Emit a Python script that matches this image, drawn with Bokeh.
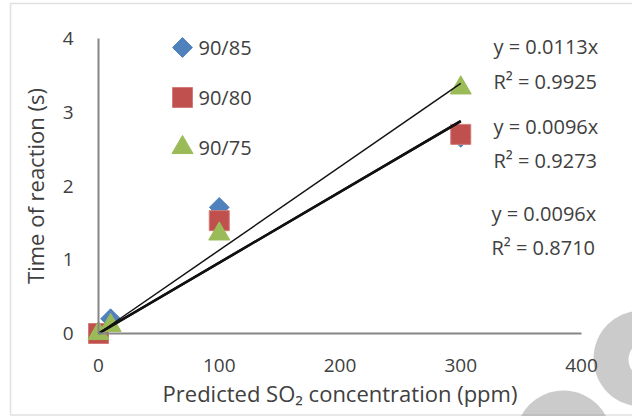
import math
from bokeh.plotting import figure
from bokeh.models import Range1d, LinearAxis, FixedTicker, BoxAnnotation, Label
from bokeh.embed import file_html
from bokeh.resources import INLINE

# ---------------- data ----------------
series_names = ["90/85", "90/80", "90/75"]
x_9085 = [0, 10, 100, 300]
y_9085 = [0.0, 0.20, 1.71, 2.66]
x_9080 = [0, 100, 300]
y_9080 = [0.0, 1.53, 2.70]
x_9075 = [0, 10, 100, 300]
y_9075 = [0.0, 0.11, 1.35, 3.33]

trend_x = [0, 300]
trend_slopes = [0.0096, 0.0096, 0.0113]          # 90/85, 90/80, 90/75
trend_eq = ["y = 0.0096x", "y = 0.0096x", "y = 0.0113x"]
trend_r2 = ["R² = 0.8710", "R² = 0.9273", "R² = 0.9925"]

x_ticks = [0, 100, 200, 300, 400]
y_ticks = [0, 1, 2, 3, 4]
x_title = "Predicted SO₂ concentration (ppm)"
y_title = "Time of reaction (s)"

# ---------------- layout ----------------
W, H = 632, 416
PX_X0, PX_PER_X = 98.0, 1.2075     # pixel of x=0, pixels per unit
PX_Y0, PX_PER_Y = 333.0, 73.75     # pixel of y=0, pixels per unit


def dx(px):
    return (px - PX_X0) / PX_PER_X


def dy(py):
    return (PX_Y0 - py) / PX_PER_Y


FONT = "Open Sans"
TXT = "#404040"
AXIS_COL = "#868686"
BLUE, RED, GREEN = "#4F81BD", "#C0504D", "#9BBB59"
LBL_SIZE = "20px"

p = figure(width=W, height=H, x_range=Range1d(dx(0), dx(W)), y_range=Range1d(dy(H), dy(0)),
           output_backend="svg", toolbar_location=None, min_border=0,
           x_axis_type=None, y_axis_type=None)
p.outline_line_color = None
p.background_fill_color = "white"
p.border_fill_color = "white"

# decorative grey blobs (bottom right)
p.circle(x=[dx(641)], y=[dy(358)], radius=48, radius_units="screen",
         fill_color="#cbcbcb", line_color=None)
p.circle(x=[dx(646)], y=[dy(359)], radius=18, radius_units="screen",
         fill_color="white", line_color=None)
p.circle(x=[dx(563)], y=[dy(438)], radius=48, radius_units="screen",
         fill_color="#cbcbcb", line_color=None)

# outer chart border
p.add_layout(BoxAnnotation(left=dx(10), right=dx(W + 60), top=dy(3), bottom=dy(414.5),
                           fill_alpha=0, line_color="#9a9a9a", line_width=1.5))

# axes
xaxis = LinearAxis(ticker=FixedTicker(ticks=x_ticks), fixed_location=0, bounds=(0, 400))
yaxis = LinearAxis(ticker=FixedTicker(ticks=y_ticks), fixed_location=0, bounds=(0, 4))
for ax in (xaxis, yaxis):
    ax.axis_line_color = AXIS_COL
    ax.axis_line_width = 2
    ax.major_tick_line_color = None
    ax.minor_tick_line_color = None
    ax.major_tick_in = 0
    ax.major_tick_out = 0
    ax.major_label_text_font = FONT
    ax.major_label_text_font_size = "19px"
    ax.major_label_text_color = TXT
    ax.axis_label_text_font = FONT
    ax.axis_label_text_font_size = "22px"
    ax.axis_label_text_font_style = "normal"
    ax.axis_label_text_color = TXT
xaxis.axis_label = x_title
yaxis.axis_label = y_title
xaxis.major_label_standoff = 25
xaxis.axis_label_standoff = 3
yaxis.major_label_standoff = 25
yaxis.axis_label_standoff = 10
p.add_layout(xaxis, "below")
p.add_layout(yaxis, "left")

# data markers
p.scatter(x_9085, y_9085, marker="square", angle=math.pi / 4, size=14,
          fill_color=BLUE, line_color=BLUE)
p.scatter(x_9080, y_9080, marker="square", size=20, fill_color=RED, line_color="#d27c7a")
p.scatter(x_9075, y_9075, marker="triangle", size=21, fill_color=GREEN, line_color=GREEN)

# trend lines (through origin)
for s, w in zip(trend_slopes, [2.5, 2.5, 1.5]):
    p.line(trend_x, [s * xv for xv in trend_x], line_color="#111111", line_width=w)

# legend (manual, to keep Excel marker shapes)
leg_px_x, leg_px_y, leg_txt_x = 182, [47, 97, 147], 198
p.scatter([dx(leg_px_x)], [dy(leg_px_y[0])], marker="square", angle=math.pi / 4, size=14,
          fill_color=BLUE, line_color=BLUE)
p.scatter([dx(leg_px_x)], [dy(leg_px_y[1])], marker="square", size=20,
          fill_color=RED, line_color="#d27c7a")
p.scatter([dx(leg_px_x)], [dy(leg_px_y[2])], marker="triangle", size=21,
          fill_color=GREEN, line_color=GREEN)
for name, py in zip(series_names, leg_px_y):
    p.add_layout(Label(x=dx(leg_txt_x), y=dy(py), text=name, text_baseline="middle",
                       text_align="left", text_font=FONT, text_font_size=LBL_SIZE,
                       text_color=TXT))

# equation labels (top to bottom: 90/75, 90/80, 90/85)
eq_px = [(493, 46, 81), (493, 126, 160), (491, 213, 247)]
for i, (px, py1, py2) in zip([2, 1, 0], eq_px):
    p.add_layout(Label(x=dx(px), y=dy(py1), text=trend_eq[i], text_baseline="middle",
                       text_align="left", text_font=FONT, text_font_size=LBL_SIZE,
                       text_color=TXT))
    p.add_layout(Label(x=dx(px), y=dy(py2), text=trend_r2[i], text_baseline="middle",
                       text_align="left", text_font=FONT, text_font_size=LBL_SIZE,
                       text_color=TXT))

open("out.html", "w").write(file_html(p, INLINE))
